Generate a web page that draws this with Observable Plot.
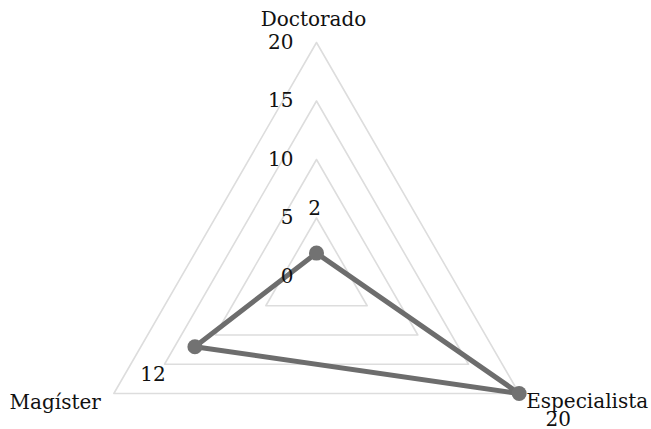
<!DOCTYPE html>
<html>
<head>
<meta charset="utf-8">
<script src="https://cdn.jsdelivr.net/npm/d3@7"></script>
<script src="https://cdn.jsdelivr.net/npm/@observablehq/plot@0.6"></script>
<style>
  body { margin: 0; background: #fff; }
</style>
</head>
<body>
<div id="chart"></div>
<script>
const categories = ["Doctorado", "Especialista", "Magíster"];
const values = [2, 20, 12];
const angles = [90, -30, 210];        // degrees, axis directions
const levels = [5, 10, 15, 20];
const tickLabels = [0, 5, 10, 15, 20];

const rad = d => d * Math.PI / 180;
const pol = (r, a) => [r * Math.cos(rad(a)), r * Math.sin(rad(a))];

// grid polygons
const grid = [];
levels.forEach(l => {
  [...angles, angles[0]].forEach(a => {
    const [x, y] = pol(l, a);
    grid.push({level: l, x, y});
  });
});

// data polygon
const series = [...categories.keys(), 0].map(i => {
  const [x, y] = pol(values[i], angles[i]);
  return {x, y};
});
const pts = categories.map((c, i) => {
  const [x, y] = pol(values[i], angles[i]);
  return {c, v: values[i], x, y};
});
const ticks = tickLabels.map(t => ({t, x: 0, y: t}));
const axisEnds = categories.map((c, i) => {
  const [x, y] = pol(20, angles[i]);
  return {c, x, y};
});

const W = 651, H = 429;
const unit = 234 / 20;           // px per value unit
const cx = 316, cy = 276;
const xDom = [-cx / unit, (W - cx) / unit];
const yDom = [-(H - cy) / unit, cy / unit];

const font = "DejaVu Serif";
const fs = 20;
const labelOffsets = {
  "Doctorado": {dx: -3, dy: -23, anchor: "middle"},
  "Especialista": {dx: 7, dy: 8, anchor: "start"},
  "Magíster": {dx: -13, dy: 9, anchor: "end"}
};
const valueOffsets = {
  "Doctorado": {dx: -2, dy: -45},
  "Especialista": {dx: 39, dy: 26},
  "Magíster": {dx: -42, dy: 28}
};

const marks = [
  Plot.line(grid, {x: "x", y: "y", z: "level", stroke: "#dddddd", strokeWidth: 1.6}),
  Plot.line(series, {x: "x", y: "y", stroke: "#6d6d6d", strokeWidth: 5, strokeLinejoin: "round"}),
  Plot.dot(pts, {x: "x", y: "y", r: 7.5, fill: "#727272", stroke: "none"}),
  Plot.text(ticks, {x: "x", y: "y", text: d => String(d.t), textAnchor: "end", dx: -23, fontSize: fs, fontFamily: font, fill: "#111"})
];
axisEnds.forEach(d => {
  const o = labelOffsets[d.c];
  marks.push(Plot.text([d], {x: "x", y: "y", text: "c", textAnchor: o.anchor, dx: o.dx, dy: o.dy, fontSize: fs, fontFamily: font, fill: "#111"}));
});
pts.forEach(d => {
  const o = valueOffsets[d.c];
  marks.push(Plot.text([d], {x: "x", y: "y", text: d => String(d.v), dx: o.dx, dy: o.dy, fontSize: fs, fontFamily: font, fill: "#111"}));
});

const chart = Plot.plot({
  width: W,
  height: H,
  margin: 0,
  x: {domain: xDom, axis: null},
  y: {domain: yDom, axis: null},
  style: {fontFamily: font, background: "#fff", overflow: "visible"},
  marks
});
document.getElementById("chart").appendChild(chart);
</script>
</body>
</html>
